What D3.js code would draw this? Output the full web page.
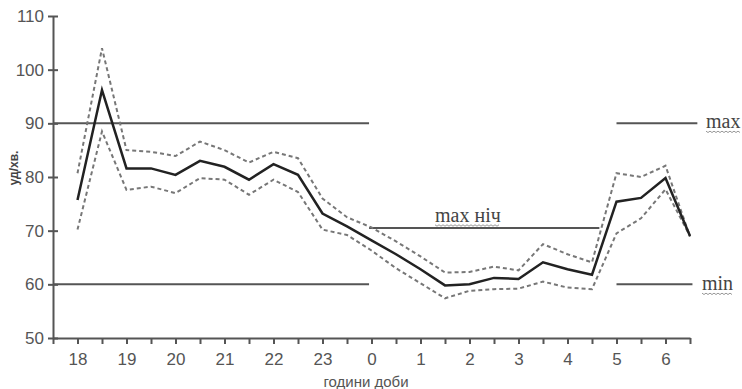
<!DOCTYPE html>
<meta charset="utf-8">

<!-- Load d3.js -->
<script src="https://d3js.org/d3.v7.min.js"></script>

<style>
  body { margin: 0; background: #fff; }
</style>

<!-- Create a div where the graph will take place -->
<div id="my_dataviz"></div>

<script>

// hours of the day, every half hour from 18:00 to 6:30
var hours = ["18", "", "19", "", "20", "", "21", "", "22", "", "23", "",
             "0", "", "1", "", "2", "", "3", "", "4", "", "5", "", "6", ""];

// heart rate, bpm
var meanRate  = [75.7, 96.2, 81.6, 81.6, 80.4, 83.0, 81.9, 79.5, 82.4, 80.4, 73.2, 70.8,
                 68.2, 65.6, 62.8, 59.8, 60.0, 61.2, 61.0, 64.1, 62.8, 61.8, 75.4, 76.1, 79.8, 69.0];
var upperRate = [80.7, 104.0, 85.0, 84.7, 83.9, 86.6, 85.0, 82.7, 84.7, 83.5, 76.0, 72.5,
                 70.6, 68.0, 65.2, 62.2, 62.3, 63.3, 62.6, 67.5, 65.6, 64.1, 80.7, 80.0, 82.1, 68.9];
var lowerRate = [70.2, 88.5, 77.6, 78.2, 77.0, 79.8, 79.5, 76.7, 79.5, 77.2, 70.2, 69.2,
                 66.3, 63.0, 60.2, 57.4, 58.8, 59.1, 59.2, 60.5, 59.4, 59.1, 69.5, 72.3, 77.7, 69.0];

// reference levels (value, start and end in half-hour steps)
var refValues = [90, 60, 70.5, 90, 60];
var refFrom   = [-1, -1, 11.9, 22, 22];
var refTo     = [11.9, 11.9, 21.3, 25.3, 25.1];
var refLabels = ["", "", "max ніч", "max", "min"];

var yTicks = [50, 60, 70, 80, 90, 100, 110];

// the svg fills the whole window
var width = 742, height = 389;

var svg = d3.select("#my_dataviz")
  .append("svg")
    .attr("width", width)
    .attr("height", height);

// X scale: one unit per half hour, the axis starts one step before 18:00
var x = d3.scaleLinear()
  .domain([-1, hours.length - 1])
  .range([53, 690]);

// Y scale
var y = d3.scaleLinear()
  .domain([50, 110])
  .range([338, 16]);

var axisColor = "#555";

// Y axis
var yAxis = svg.append("g")
  .attr("transform", "translate(" + x(-1) + ",0)")
  .call(d3.axisLeft(y).tickValues(yTicks).tickSizeInner(5).tickSizeOuter(0).tickPadding(5));
yAxis.select(".domain").attr("stroke", axisColor).attr("stroke-width", 2);
yAxis.selectAll(".tick line")
  .attr("x1", -5).attr("x2", 5)
  .attr("stroke", axisColor).attr("stroke-width", 2);
yAxis.selectAll(".tick text")
  .attr("x", -9)
  .style("font-family", "'Liberation Sans', Arial, sans-serif")
  .style("font-size", "17px")
  .attr("fill", "#555");

// X axis: a tick every half hour, label on the full hours
var xAxis = svg.append("g")
  .attr("transform", "translate(0," + y(50) + ")")
  .call(d3.axisBottom(x)
    .tickValues(d3.range(-1, hours.length))
    .tickFormat(function(d) { return d < 0 ? "" : hours[d]; })
    .tickSizeInner(6).tickSizeOuter(0).tickPadding(9));
xAxis.select(".domain").attr("stroke", axisColor).attr("stroke-width", 2);
xAxis.selectAll(".tick line").attr("stroke", axisColor).attr("stroke-width", 2);
xAxis.selectAll(".tick text")
  .style("font-family", "'Liberation Sans', Arial, sans-serif")
  .style("font-size", "17px")
  .attr("fill", "#555");

// Y axis label
svg.append("text")
  .attr("transform", "translate(18,168) rotate(-90)")
  .attr("text-anchor", "middle")
  .style("font-family", "'Liberation Sans', Arial, sans-serif")
  .style("font-size", "12px")
  .style("font-weight", "bold")
  .attr("fill", "#444")
  .text("уд/хв.");

// X axis label
svg.append("text")
  .attr("x", 366)
  .attr("y", 387)
  .attr("text-anchor", "middle")
  .style("font-family", "'Liberation Sans', Arial, sans-serif")
  .style("font-size", "15px")
  .attr("fill", "#555")
  .text("години доби");

// reference lines
var refs = refValues.map(function(v, i) {
  return {value: v, from: refFrom[i], to: refTo[i], label: refLabels[i]};
});

svg.append("g")
  .selectAll("line")
  .data(refs)
  .enter()
  .append("line")
    .attr("x1", function(d) { return x(d.from); })
    .attr("x2", function(d) { return x(d.to); })
    .attr("y1", function(d) { return y(d.value); })
    .attr("y2", function(d) { return y(d.value); })
    .attr("stroke", "#555")
    .attr("stroke-width", 2);

// labels of the reference lines (serif, with a wavy spell-check underline)
var labelPos = {
  "max ніч": {x: 435, dy: -6},
  "max": {x: 706, dy: 5},
  "min": {x: 702, dy: 6}
};

var labs = svg.append("g")
  .selectAll("g")
  .data(refs.filter(function(d) { return d.label; }))
  .enter()
  .append("g");

labs.append("text")
  .attr("x", function(d) { return labelPos[d.label].x; })
  .attr("y", function(d) { return y(d.value) + labelPos[d.label].dy; })
  .style("font-family", "'Liberation Serif', 'Times New Roman', serif")
  .style("font-size", "20px")
  .attr("fill", "#444")
  .text(function(d) { return d.label; })
  .each(function(d) {
    var box = this.getBBox();
    var yy = y(d.value) + labelPos[d.label].dy + 3;
    var pts = [];
    for (var k = 0; k <= Math.floor(box.width / 2); k++) {
      pts.push([box.x + k * 2, yy + (k % 2 ? 1.2 : -0.2)]);
    }
    d3.select(this.parentNode).append("path")
      .attr("d", d3.line()(pts))
      .attr("fill", "none")
      .attr("stroke", "#999")
      .attr("stroke-width", 1);
  });

// lines
var line = d3.line()
  .x(function(d, i) { return x(i); })
  .y(function(d) { return y(d); });

svg.append("path")
  .datum(upperRate)
  .attr("d", line)
  .attr("fill", "none")
  .attr("stroke", "#777")
  .attr("stroke-width", 2)
  .attr("stroke-dasharray", "4,3");

svg.append("path")
  .datum(lowerRate)
  .attr("d", line)
  .attr("fill", "none")
  .attr("stroke", "#777")
  .attr("stroke-width", 2)
  .attr("stroke-dasharray", "4,3");

svg.append("path")
  .datum(meanRate)
  .attr("d", line)
  .attr("fill", "none")
  .attr("stroke", "#222")
  .attr("stroke-width", 2.5);

</script>
